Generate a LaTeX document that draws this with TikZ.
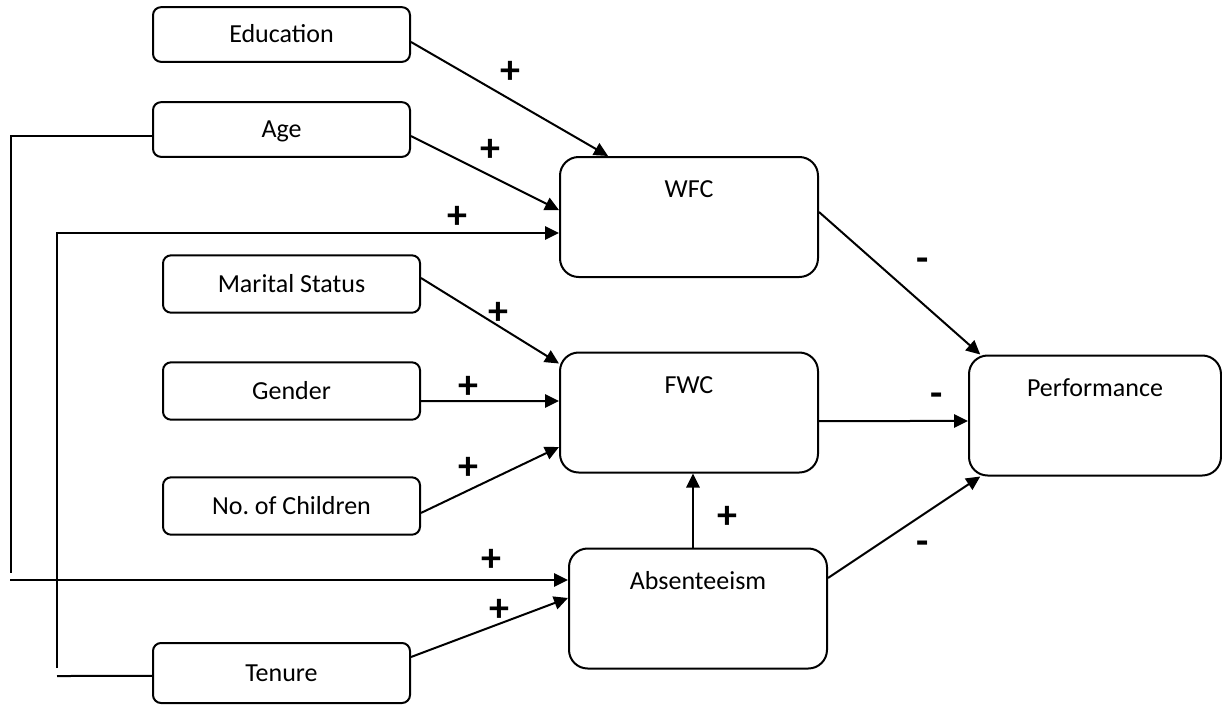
\documentclass[tikz,border=0pt]{standalone}
\usepackage{fontspec}
\setmainfont{Carlito}
\usetikzlibrary{arrows.meta}

\begin{document}
\begin{tikzpicture}[x=0.75pt,y=-0.75pt,line width=1.5pt,
    smallbox/.style={draw,rounded corners=6pt,minimum width=192.75pt,minimum height=43pt,inner sep=0pt,
        font=\fontsize{19.5}{23}\selectfont,text height=12.5pt,text depth=0pt},
    bigbox/.style={draw,rounded corners=14pt,minimum width=193.5pt,inner sep=0pt,
        font=\fontsize{19.5}{23}\selectfont,text height=30.5pt,text depth=59.5pt},
    sign/.style={font=\fontsize{30}{30}\selectfont\bfseries,inner sep=0pt},
    link/.style={-{Triangle[length=10.5pt,width=10pt]}}]
    \useasboundingbox (0,0) rectangle (1222,704);

    % predictors
    \node[smallbox,minimum height=41pt] (edu) at (281.5,34.5) {Education};
    \node[smallbox,minimum height=41pt] (age) at (281.5,129.5) {Age};
    \node[smallbox] (mar) at (291.5,284) {Marital Status};
    \node[smallbox] (gen) at (291.5,391) {Gender};
    \node[smallbox] (kids) at (291.5,506) {No.\ of Children};
    \node[smallbox,minimum height=45pt] (ten) at (281.5,673) {Tenure};

    % mediators and outcome
    \node[bigbox] (wfc) at (689,217) {WFC};
    \node[bigbox] (fwc) at (689,412.5) {FWC};
    \node[bigbox] (abs) at (698,608.5) {Absenteeism};
    \node[bigbox,minimum width=189pt] (perf) at (1095,415.5) {Performance};

    % ends of the long side lines
    \coordinate (agecorner) at (11,573);
    \coordinate (absin) at (10,580);
    \coordinate (tenfoot) at (57,676);
    \coordinate (tencorner) at (57,668);

    \draw[link] ([yshift=-5.6pt]edu.east) -- (wfc.143.8);
    \draw[link] ([yshift=-4.9pt]age.east) -- ([yshift=5.2pt]wfc.west);
    \draw ([yshift=-4.9pt]age.west) -| (agecorner);
    \draw ([yshift=-2.2pt]ten.west) -- (tenfoot);
    \draw[link] (tencorner) |- ([yshift=-12pt]wfc.west);

    \draw[link] ([yshift=4.5pt]mar.east) -- ([yshift=-9pt]fwc.north west);
    \draw[link] ([yshift=-7.5pt]gen.east) -- ([yshift=8.6pt]fwc.west);
    \draw[link] ([yshift=-5.2pt]kids.east) -- ([yshift=-25.9pt]fwc.west);
    \draw[link] ([xshift=-3.75pt]abs.north) -- ([xshift=3pt]fwc.south);

    \draw[link] (absin) -- (absin -| abs.west);
    \draw[link] ([yshift=12pt]ten.east) -- ([yshift=7.9pt]abs.west);

    \draw[link] ([yshift=3.75pt]wfc.east) -- (perf.152);
    \draw[link] ([yshift=-6.4pt]fwc.east) -- ([yshift=-4.1pt]perf.west);
    \draw[link] ([yshift=22.9pt]abs.east) -- (perf.208);

    % signs
    \node[sign] (s1) at (510,72) {+};
    \node[sign] (s2) at (490,150) {+};
    \node[sign] (s3) at (457,217) {+};
    \node[sign] (s4) at (498,313) {+};
    \node[sign] (s5) at (468,387) {+};
    \node[sign] (s6) at (468,468) {+};
    \node[sign] (s7) at (727,517) {+};
    \node[sign] (s8) at (491,560) {+};
    \node[sign] (s9) at (499,610) {+};
    \node[sign] (m1) at (923,265) {-};
    \node[sign] (m2) at (937,400) {-};
    \node[sign] (m3) at (923,548) {-};
\end{tikzpicture}
\end{document}
